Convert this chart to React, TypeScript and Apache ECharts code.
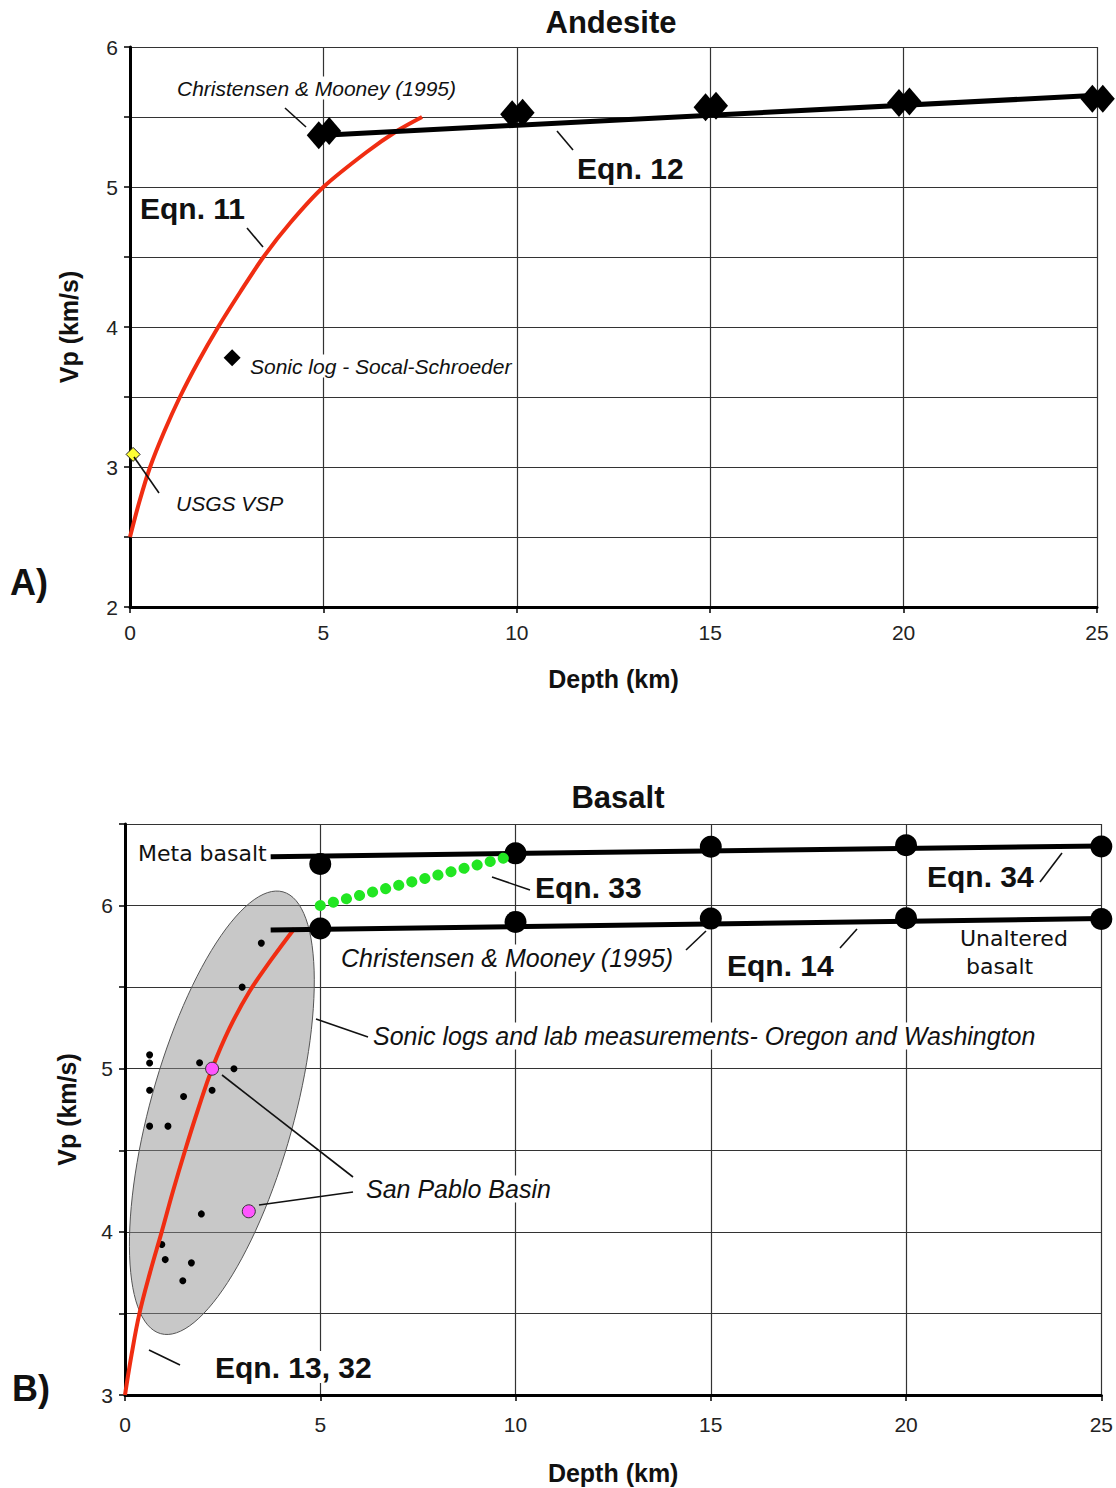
import React, { useEffect, useRef } from "react";
import * as echarts from "echarts";

// ---------- Panel A: Andesite ----------
const andesiteEqn11 = [
  [0, 2.5], [0.24, 2.75], [0.52, 3.0], [0.88, 3.25], [1.29, 3.5], [1.76, 3.75], [2.28, 4.0],
  [2.85, 4.25], [3.45, 4.5], [4.16, 4.75], [5.0, 5.0], [6.12, 5.25], [6.9, 5.4], [7.55, 5.5],
];
const andesiteEqn12 = [[5, 5.37], [25, 5.655]];
const chrisDepthA = [4.88, 9.88, 14.88, 19.88, 24.88];
const chrisVpA = [5.37, 5.52, 5.57, 5.6, 5.63];
const chrisDepthB = [5.15, 10.15, 15.15, 20.15, 25.15];
const chrisVpB = [5.4, 5.53, 5.58, 5.61, 5.63];
const sonicLogPoint = [[2.64, 3.78]];
const usgsVspPoint = [[0.08, 3.09]];

// ---------- Panel B: Basalt ----------
const basaltEqn13 = [
  [0, 3.0], [0.17, 3.25], [0.37, 3.5], [0.64, 3.75], [0.94, 4.0], [1.23, 4.25],
  [1.54, 4.5], [1.87, 4.75], [2.23, 5.0], [2.68, 5.25], [3.18, 5.47], [3.75, 5.67], [4.34, 5.86],
];
const metaBasaltLine = [[3.73, 6.3], [25, 6.365]];
const unalteredLine = [[3.73, 5.85], [25, 5.92]];
const circleDepths = [5, 10, 15, 20, 25];
const metaCircleVp = [6.255, 6.32, 6.36, 6.37, 6.362];
const unalteredCircleVp = [5.86, 5.9, 5.92, 5.922, 5.918];
const eqn33Line = [[5.0, 6.0], [10.0, 6.31]];
const sonicDots = [
  [0.63, 5.085], [0.63, 5.035], [0.63, 4.868], [0.63, 4.648], [1.1, 4.648],
  [1.5, 4.83], [1.91, 5.037], [2.23, 4.868], [2.79, 5.0], [1.955, 4.11],
  [0.943, 3.923], [1.03, 3.83], [1.7, 3.81], [1.48, 3.7], [3.49, 5.77], [3.0, 5.5],
];
const sanPabloPoints = [[2.23, 5.0], [3.17, 4.126]];
const ellipseCenter = [2.48, 4.73];
const ellipseMajorEnd = [4.047, 6.084];
const ellipseMinorEnd = [4.254, 4.612];

const yTicksFmt = (v: number) => (Math.abs(v - Math.round(v)) < 1e-9 ? String(Math.round(v)) : "");

const FONT = "Liberation Sans, Arial, sans-serif";
const DEJAVU = "DejaVu Sans, Verdana, sans-serif";

function makeX(gridIndex: number, nameGap: number, margin: number) {
  return {
    gridIndex,
    type: "value",
    min: 0,
    max: 25,
    interval: 5,
    name: "Depth (km)",
    nameLocation: "middle",
    nameGap,
    nameTextStyle: { fontFamily: FONT, fontWeight: "bold", fontSize: 25, color: "#111" },
    axisLine: { onZero: false, lineStyle: { color: "#000", width: 3 } },
    axisTick: { show: true, length: 6, lineStyle: { color: "#000", width: 1.5 } },
    axisLabel: { fontFamily: FONT, fontSize: 21, color: "#222", margin },
    splitLine: { show: true, lineStyle: { color: "#333", width: 1.2 } },
  };
}

function makeY(gridIndex: number, min: number, max: number, nameGap: number) {
  return {
    gridIndex,
    type: "value",
    min,
    max,
    interval: 0.5,
    name: "Vp (km/s)",
    nameLocation: "middle",
    nameRotate: 90,
    nameGap,
    nameTextStyle: { fontFamily: FONT, fontWeight: "bold", fontSize: 25, color: "#111" },
    axisLine: { onZero: false, lineStyle: { color: "#000", width: 3 } },
    axisTick: { show: true, length: 6, lineStyle: { color: "#000", width: 1.5 } },
    axisLabel: { fontFamily: FONT, fontSize: 21, color: "#222", margin: 12, formatter: yTicksFmt },
    splitLine: { show: true, lineStyle: { color: "#333", width: 1.2 } },
  };
}

function txt(text: string, x: number, y: number, opts: any = {}) {
  return {
    type: "text",
    x,
    y,
    z: 100,
    style: {
      text,
      fill: "#111",
      fontFamily: FONT,
      fontSize: 21,
      fontStyle: "normal",
      fontWeight: "normal",
      textAlign: "left",
      textVerticalAlign: "middle",
      verticalAlign: "middle",
      ...opts,
    },
  };
}

function lead(x1: number, y1: number, x2: number, y2: number) {
  return {
    type: "line",
    z: 100,
    shape: { x1, y1, x2, y2 },
    style: { stroke: "#111", lineWidth: 1.6 },
  };
}

const italic = (size: number, bg = false) => ({
  fontStyle: "italic",
  fontSize: size,
  ...(bg ? { backgroundColor: "#fff", padding: [1, 3] } : {}),
});
const bold = (size: number, bg = false) => ({
  fontWeight: "bold",
  fontSize: size,
  ...(bg ? { backgroundColor: "#fff", padding: [1, 3] } : {}),
});

export default function App() {
  const ref = useRef<HTMLDivElement>(null);

  useEffect(() => {
    if (!ref.current) return;
    const chart = echarts.init(ref.current, undefined, { renderer: "svg" });

    const solid = (color: string, extra: any = {}) => ({ color, opacity: 1, ...extra });

    const option: any = {
      animation: false,
      backgroundColor: "#fff",
      textStyle: { fontFamily: FONT },
      grid: [
        { left: 130, top: 47, width: 967, height: 560 },
        { left: 125, top: 824, width: 978, height: 571 },
      ],
      xAxis: [makeX(0, 59, 15), makeX(1, 65, 19)],
      yAxis: [makeY(0, 2, 6, 49), makeY(1, 3, 6.5, 46)],
      series: [
        // ---- Panel A ----
        {
          type: "line",
          xAxisIndex: 0,
          yAxisIndex: 0,
          data: andesiteEqn11,
          smooth: 0.3,
          symbol: "none",
          lineStyle: { color: "#f02d12", width: 4 },
          z: 3,
        },
        {
          type: "line",
          xAxisIndex: 0,
          yAxisIndex: 0,
          data: andesiteEqn12,
          symbol: "none",
          lineStyle: { color: "#000", width: 5 },
          z: 4,
        },
        {
          type: "scatter",
          xAxisIndex: 0,
          yAxisIndex: 0,
          clip: false,
          symbol: "diamond",
          symbolSize: [24, 28],
          itemStyle: solid("#000"),
          data: chrisDepthA.map((d, i) => [d, chrisVpA[i]]),
          z: 5,
        },
        {
          type: "scatter",
          xAxisIndex: 0,
          yAxisIndex: 0,
          clip: false,
          symbol: "diamond",
          symbolSize: [24, 28],
          itemStyle: solid("#000"),
          data: chrisDepthB.map((d, i) => [d, chrisVpB[i]]),
          z: 5,
        },
        {
          type: "scatter",
          xAxisIndex: 0,
          yAxisIndex: 0,
          clip: false,
          symbol: "diamond",
          symbolSize: 17,
          itemStyle: solid("#000"),
          data: sonicLogPoint,
          z: 5,
        },
        {
          type: "scatter",
          xAxisIndex: 0,
          yAxisIndex: 0,
          clip: false,
          symbol: "diamond",
          symbolSize: 14,
          itemStyle: solid("#ffff33", { borderColor: "#222", borderWidth: 1 }),
          data: usgsVspPoint,
          z: 6,
        },
        // ---- Panel B ----
        {
          type: "custom",
          xAxisIndex: 1,
          yAxisIndex: 1,
          z: 1,
          data: [[ellipseCenter[0], ellipseCenter[1], ellipseMajorEnd[0], ellipseMajorEnd[1], ellipseMinorEnd[0], ellipseMinorEnd[1]]],
          encode: { x: 0, y: 1 },
          renderItem: (params: any, api: any) => {
            const c = api.coord([api.value(0), api.value(1)]);
            const M = api.coord([api.value(2), api.value(3)]);
            const m = api.coord([api.value(4), api.value(5)]);
            const ux = M[0] - c[0], uy = M[1] - c[1];
            const vx = m[0] - c[0], vy = m[1] - c[1];
            const pts: number[][] = [];
            for (let k = 0; k < 120; k++) {
              const t = (k / 120) * Math.PI * 2;
              pts.push([c[0] + Math.cos(t) * ux + Math.sin(t) * vx, c[1] + Math.cos(t) * uy + Math.sin(t) * vy]);
            }
            return {
              type: "polygon",
              shape: { points: pts },
              style: { fill: "rgba(140,140,140,0.48)", stroke: "#555", lineWidth: 1 },
            };
          },
        },
        {
          type: "scatter",
          xAxisIndex: 1,
          yAxisIndex: 1,
          symbol: "circle",
          symbolSize: 7,
          itemStyle: solid("#000"),
          data: sonicDots,
          z: 3,
        },
        {
          type: "line",
          xAxisIndex: 1,
          yAxisIndex: 1,
          data: basaltEqn13,
          smooth: 0.4,
          symbol: "none",
          lineStyle: { color: "#f02d12", width: 4 },
          z: 4,
        },
        {
          type: "line",
          xAxisIndex: 1,
          yAxisIndex: 1,
          data: metaBasaltLine,
          symbol: "none",
          lineStyle: { color: "#000", width: 5 },
          z: 4,
        },
        {
          type: "line",
          xAxisIndex: 1,
          yAxisIndex: 1,
          data: unalteredLine,
          symbol: "none",
          lineStyle: { color: "#000", width: 5 },
          z: 4,
        },
        {
          type: "scatter",
          xAxisIndex: 1,
          yAxisIndex: 1,
          clip: false,
          symbol: "circle",
          symbolSize: 22,
          itemStyle: solid("#000"),
          data: circleDepths.map((d, i) => [d, metaCircleVp[i]]),
          z: 5,
        },
        {
          type: "scatter",
          xAxisIndex: 1,
          yAxisIndex: 1,
          clip: false,
          symbol: "circle",
          symbolSize: 22,
          itemStyle: solid("#000"),
          data: circleDepths.map((d, i) => [d, unalteredCircleVp[i]]),
          z: 5,
        },
        {
          type: "line",
          xAxisIndex: 1,
          yAxisIndex: 1,
          data: eqn33Line,
          symbol: "none",
          lineStyle: { color: "#22e622", width: 11, type: [0.1, 13.4], cap: "round" },
          z: 6,
        },
        {
          type: "scatter",
          xAxisIndex: 1,
          yAxisIndex: 1,
          symbol: "circle",
          symbolSize: 13,
          itemStyle: solid("#ff55ff", { borderColor: "#333", borderWidth: 1 }),
          data: sanPabloPoints,
          z: 6,
        },
      ],
      graphic: [
        // Panel A texts
        txt("Andesite", 611, 22, { ...bold(31), textAlign: "center" }),
        txt("Christensen & Mooney (1995)", 174, 88, italic(21, true)),
        lead(285, 108, 306, 127),
        txt("Eqn. 12", 577, 168, bold(30)),
        lead(557, 131, 573, 150),
        txt("Eqn. 11", 140, 208, bold(30)),
        lead(247, 228, 263, 247),
        txt("Sonic log - Socal-Schroeder", 247, 366, italic(21, true)),
        txt("USGS VSP", 176, 503, italic(21)),
        lead(134, 457, 159, 493),
        txt("A)", 10, 582, bold(36)),
        // Panel B texts
        txt("Basalt", 618, 797, { ...bold(31), textAlign: "center" }),
        txt("Meta basalt", 138, 853, { fontFamily: DEJAVU, fontSize: 22 }),
        txt("Eqn. 33", 535, 887, bold(30)),
        lead(492, 877, 530, 890),
        txt("Eqn. 34", 927, 876, bold(30)),
        lead(1040, 882, 1062, 853),
        txt("Christensen & Mooney (1995)", 338, 958, italic(25, true)),
        lead(686, 950, 706, 931),
        txt("Eqn. 14", 727, 965, bold(30)),
        lead(840, 948, 857, 929),
        txt("Unaltered", 960, 938, { fontFamily: DEJAVU, fontSize: 22 }),
        txt("basalt", 966, 966, { fontFamily: DEJAVU, fontSize: 22 }),
        txt("Sonic logs and lab measurements- Oregon and Washington", 370, 1036, italic(25, true)),
        lead(316, 1019, 368, 1037),
        txt("San Pablo Basin", 363, 1189, italic(25, true)),
        lead(353, 1177, 222, 1075),
        lead(353, 1192, 259, 1205),
        txt("Eqn. 13, 32", 212, 1367, bold(30, true)),
        lead(149, 1350, 180, 1365),
        txt("B)", 12, 1388, bold(36)),
      ],
    };

    chart.setOption(option);
    return () => chart.dispose();
  }, []);

  return (
    <div
      ref={ref}
      style={{ position: "absolute", left: 0, top: 0, width: 1116, height: 1488, background: "#fff" }}
    />
  );
}
